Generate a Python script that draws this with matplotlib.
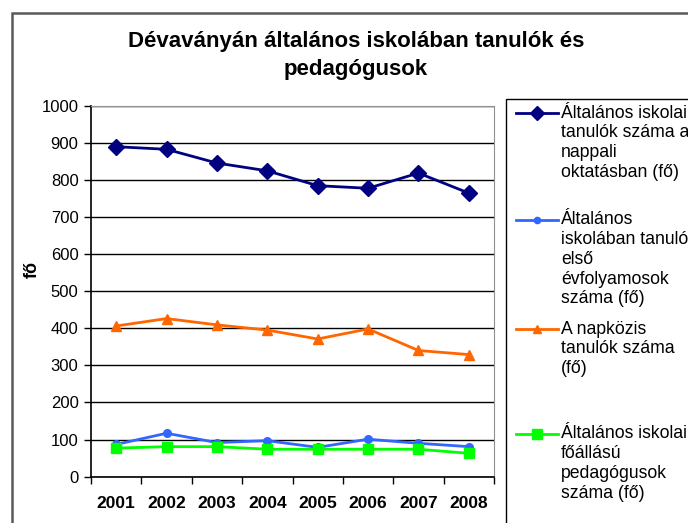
import matplotlib
matplotlib.use("Agg")
import matplotlib.pyplot as plt
from matplotlib.lines import Line2D
from matplotlib.patches import Rectangle

plt.rcParams['font.family'] = ['Liberation Sans', 'DejaVu Sans']

years = ["2001", "2002", "2003", "2004", "2005", "2006", "2007", "2008"]
tanulok = [889, 882, 845, 824, 784, 777, 818, 764]
elsosok = [87, 117, 92, 97, 79, 101, 90, 81]
napkozis = [406, 426, 409, 395, 371, 398, 340, 329]
pedagogusok = [77, 81, 81, 74, 74, 74, 74, 63]

labels = [
    "Általános iskolai\ntanulók száma a\nnappali\noktatásban (fő)",
    "Általános\niskolában tanulók\nelső\névfolyamosok\nszáma (fő)",
    "A napközis\ntanulók száma\n(fő)",
    "Általános iskolai\nfőállású\npedagógusok\nszáma (fő)",
]

W, H = 688, 523
fig = plt.figure(figsize=(W / 100, H / 100), dpi=100)

# outer chart frame (runs off the right and bottom edge)
fig.patches.append(Rectangle((12 / W, -0.1), 1.2, 1 - 13 / H + 0.1, transform=fig.transFigure,
                             fill=False, edgecolor="#5a5a5a", linewidth=1.8))

ax = fig.add_axes([91 / W, 1 - 476.7 / H, (494 - 91) / W, (476.7 - 105.5) / H])

x = list(range(len(years)))
series = [
    (tanulok, "#000080", "D", 8),
    (elsosok, "#3366FF", "o", 5.5),
    (napkozis, "#FF6600", "^", 7),
    (pedagogusok, "#00FF00", "s", 7.5),
]
for vals, col, mk, ms in series:
    ax.plot(x, vals, color=col, linewidth=2, marker=mk, markersize=ms,
            markerfacecolor=col, markeredgecolor=col, zorder=3)

ax.set_ylim(0, 1000)
ax.set_yticks(range(0, 1001, 100))
ax.set_xlim(-0.5, 7.5)
ax.set_xticks([i - 0.5 for i in range(len(years) + 1)])
ax.set_xticklabels([])
ax.set_xticks(x, minor=True)
ax.set_xticklabels(years, minor=True, fontweight="bold", fontsize=12.5)
ax.tick_params(axis="x", which="minor", length=0, pad=14)
ax.tick_params(axis="x", which="major", length=5, width=1, color="black", direction="out")
ax.tick_params(axis="y", length=5, width=1, direction="out", labelsize=12, pad=4)
ax.grid(axis="y", color="black", linewidth=1)
ax.set_axisbelow(True)

for s in ["top", "right"]:
    ax.spines[s].set_color("#909090")
ax.spines["left"].set_linewidth(1.2)
ax.spines["bottom"].set_linewidth(1.2)

fig.text(32 / W, 1 - 270 / H, "fő", rotation=90, fontsize=13, fontweight="bold",
         ha="center", va="center")

fig.text(356 / W, 1 - 42 / H, "Dévaványán általános iskolában tanulók és",
         fontsize=16, fontweight="bold", ha="center", va="center")
fig.text(356 / W, 1 - 70 / H, "pedagógusok",
         fontsize=16, fontweight="bold", ha="center", va="center")

# legend box (also runs off the edges)
fig.patches.append(Rectangle((505.5 / W, -0.1), 1.0, 1 - 99.5 / H + 0.1, transform=fig.transFigure,
                             fill=False, edgecolor="black", linewidth=1))

entry_y = [113, 220, 329, 434]
for (vals, col, mk, ms), lab, ey in zip(series, labels, entry_y):
    yy = 1 - ey / H
    fig.lines.append(Line2D([516 / W, 558 / W], [yy, yy], transform=fig.transFigure,
                            color=col, linewidth=2))
    fig.lines.append(Line2D([537 / W], [yy], transform=fig.transFigure, color=col,
                            marker=mk, markersize=ms - 1, markerfacecolor=col, markeredgecolor=col))
    for i, line in enumerate(lab.split("\n")):
        fig.text(561 / W, 1 - (ey + i * 19.7) / H, line, fontsize=12.7, ha="left", va="center")

fig.savefig("out.png", dpi=100)
